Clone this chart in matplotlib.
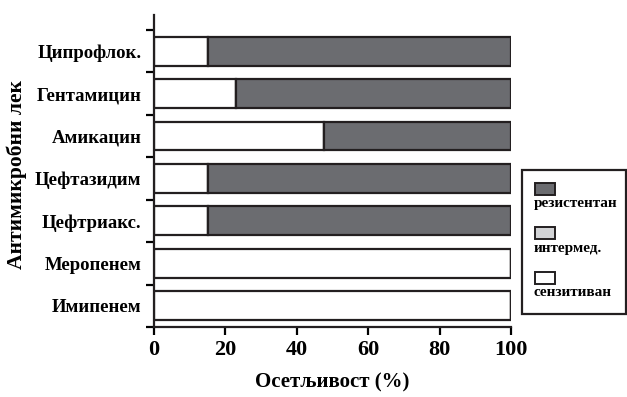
# Осетљивост на антимикробне лекове: хоризонтални наслагани стубићи
import matplotlib.pyplot as plt
import numpy as np
from matplotlib.patches import Rectangle

plt.rcParams['font.family'] = ['Liberation Serif', 'DejaVu Serif']
plt.rcParams['font.weight'] = 'bold'

# подаци (одоздо нагоре)
lekovi = ['Имипенем', 'Меропенем', 'Цефтриакс.', 'Цефтазидим',
          'Амикацин', 'Гентамицин', 'Ципрофлок.']
senzitivan = [100, 100, 15, 15, 47.5, 23, 15]
intermed = [0, 0, 0, 0, 0, 0, 0]
rezistentan = [0, 0, 85, 85, 52.5, 77, 85]

kategorije = ['резистентан', 'интермед.', 'сензитиван']
boje = ['#6b6c70', '#d2d3d5', 'white']

fig = plt.figure(figsize=(6.27, 3.97), dpi=100)
ax = fig.add_axes([0.2456, 0.1763, 0.5694, 0.7857])

y = np.arange(len(lekovi))
h = 0.68
lw = 1.6
ax.barh(y, senzitivan, height=h, color=boje[2], edgecolor='#231f20', linewidth=lw)
ax.barh(y, intermed, height=h, left=senzitivan, color=boje[1],
        edgecolor='#231f20', linewidth=lw)
left2 = np.array(senzitivan) + np.array(intermed)
ax.barh(y, rezistentan, height=h, left=left2, color=boje[0],
        edgecolor='#231f20', linewidth=lw)

ax.set_xlim(0, 100)
ax.set_ylim(-0.5, 6.85)

# ознаке на границама категорија, називи у средини
ax.set_yticks(np.arange(-0.5, 7, 1))
ax.set_yticklabels([])
ax.set_yticks(y, minor=True)
ax.set_yticklabels(lekovi, minor=True, fontsize=13.5, fontweight='bold')
ax.tick_params(axis='y', which='minor', length=0, pad=9)
ax.tick_params(axis='y', which='major', length=6, width=1.6, direction='out')
ax.set_xticks([0, 20, 40, 60, 80, 100])
ax.tick_params(axis='x', length=6, width=1.6, labelsize=16, pad=3)

for s in ['top', 'right']:
    ax.spines[s].set_visible(False)
for s in ['left', 'bottom']:
    ax.spines[s].set_linewidth(1.6)
    ax.spines[s].set_color('#231f20')

ax.set_xlabel('Осетљивост (%)', fontsize=15, fontweight='bold', labelpad=9)
ax.set_ylabel('Антимикробни лек', fontsize=15.5, fontweight='bold')
ax.yaxis.set_label_coords(-0.355, 0.49)

# легенда: квадратић изнад текста
lx, ly, lw_, lh = 0.8325, 0.209, 0.166, 0.363
fig.patches.append(Rectangle((lx, ly), lw_, lh, transform=fig.transFigure,
                             facecolor='white', edgecolor='#231f20', linewidth=1.6))
for i, (k, c) in enumerate(zip(kategorije, boje)):
    top = 0.539 - i * 0.112
    fig.patches.append(Rectangle((0.853, top - 0.030), 0.032, 0.030,
                                 transform=fig.transFigure, facecolor=c,
                                 edgecolor='#231f20', linewidth=1.4))
    fig.text(0.851, top - 0.036, k, fontsize=11, fontweight='bold', va='top')

fig.savefig('out.png', dpi=100)
